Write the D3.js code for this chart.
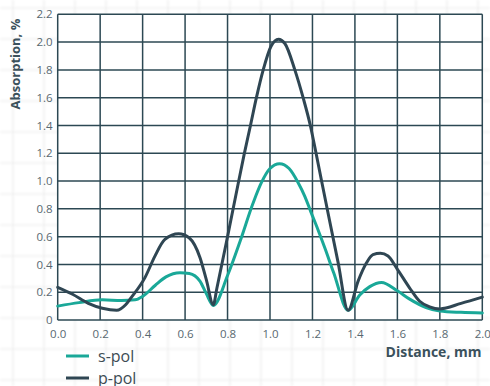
<!DOCTYPE html>
<html>
<head>
<meta charset="utf-8">
<script src="https://cdn.jsdelivr.net/npm/d3@7/dist/d3.min.js"></script>
<style>
  html, body { margin: 0; padding: 0; background: #ffffff; }
  svg { display: block; }
</style>
</head>
<body>
<svg id="chart" width="490" height="386"></svg>
<script>
// Absorption (%) against distance (mm) for the two polarisations
const sPolDistance   = [0.00, 0.10, 0.21, 0.30, 0.364, 0.40, 0.46, 0.51, 0.576, 0.62, 0.67, 0.70, 0.733,
                        0.80, 0.86, 0.92, 0.96, 1.00, 1.045, 1.09, 1.132, 1.164,
                        1.192, 1.226, 1.258, 1.30, 1.368, 1.423, 1.47, 1.525, 1.60, 1.658, 1.735, 1.80, 1.90, 2.00];
const sPolAbsorption = [0.10, 0.125, 0.145, 0.14, 0.145, 0.17, 0.25, 0.31, 0.34, 0.335, 0.28, 0.19, 0.105,
                        0.32, 0.57, 0.84, 0.99, 1.09, 1.125, 1.09, 0.99, 0.89,
                        0.78, 0.65, 0.52, 0.34, 0.07, 0.18, 0.24, 0.27, 0.21, 0.15, 0.09, 0.065, 0.055, 0.05];

const pPolDistance   = [0.00, 0.07, 0.144, 0.21, 0.278, 0.32, 0.348, 0.411, 0.458, 0.505, 0.57, 0.62, 0.67,
                        0.70, 0.733, 0.75, 0.80, 0.85, 0.878, 0.908, 0.936, 0.968, 1.005, 1.04, 1.07,
                        1.117, 1.156, 1.19, 1.217, 1.243, 1.28, 1.32, 1.368, 1.415, 1.454, 1.485,
                        1.52, 1.556, 1.598, 1.658, 1.705, 1.752, 1.80, 1.90, 2.00];
const pPolAbsorption = [0.235, 0.185, 0.12, 0.085, 0.07, 0.11, 0.165, 0.305, 0.46, 0.58, 0.62, 0.59, 0.45,
                        0.29, 0.11, 0.23, 0.60, 0.98, 1.19, 1.40, 1.60, 1.80, 1.97, 2.02, 1.99,
                        1.80, 1.60, 1.40, 1.20, 1.00, 0.72, 0.42, 0.07, 0.28, 0.41, 0.47,
                        0.48, 0.46, 0.37, 0.23, 0.135, 0.095, 0.08, 0.12, 0.165];

const xTicks = [0, 0.2, 0.4, 0.6, 0.8, 1.0, 1.2, 1.4, 1.6, 1.8, 2.0];
const yTicks = [0, 0.2, 0.4, 0.6, 0.8, 1.0, 1.2, 1.4, 1.6, 1.8, 2.0, 2.2];

const seriesNames  = ["s-pol", "p-pol"];
const seriesColors = ["#1aa898", "#2f4653"];

const W = 490, H = 386;
const svg = d3.select("#chart");

// faint graph-paper backdrop
svg.append("defs").append("filter").attr("id", "soft")
  .append("feGaussianBlur").attr("stdDeviation", 0.8);
const paper = svg.append("g").attr("filter", "url(#soft)");
const paperX = d3.range(13, W, 31);
const paperY = d3.range(8, H, 31);
paper.selectAll("line.pv").data(paperX).join("line")
  .attr("x1", d => d).attr("x2", d => d).attr("y1", 0).attr("y2", H)
  .attr("stroke", "#ececec").attr("stroke-width", 1.2);
paper.selectAll("line.ph").data(paperY).join("line")
  .attr("y1", d => d).attr("y2", d => d).attr("x1", 0).attr("x2", W)
  .attr("stroke", "#ececec").attr("stroke-width", 1.2);

const x = d3.scaleLinear().domain([0, 2]).range([57.7, 482.3]);
const y = d3.scaleLinear().domain([0, 2.2]).range([320, 14.3]);

// plot panel
svg.append("rect")
  .attr("x", x(0)).attr("y", y(2.2))
  .attr("width", x(2) - x(0)).attr("height", y(0) - y(2.2))
  .attr("fill", "#ffffff");

const gridColor = "#2c4853";
const grid = svg.append("g");
grid.selectAll("line.gx").data(xTicks).join("line")
  .attr("x1", d => x(d)).attr("x2", d => x(d))
  .attr("y1", y(0)).attr("y2", y(2.2))
  .attr("stroke", gridColor).attr("stroke-width", 1.5);
grid.selectAll("line.gy").data(yTicks).join("line")
  .attr("y1", d => y(d)).attr("y2", d => y(d))
  .attr("x1", x(0)).attr("x2", x(2))
  .attr("stroke", gridColor).attr("stroke-width", 1.5);

// tick labels through d3 axes
const tickFont = "'Open Sans', sans-serif";
const xAxis = svg.append("g")
  .attr("transform", `translate(0,${y(0)})`)
  .call(d3.axisBottom(x).tickValues(xTicks).tickSize(0).tickPadding(10)
    .tickFormat(d3.format(".1f")));
xAxis.select(".domain").remove();
xAxis.selectAll("text")
  .attr("font-family", tickFont).attr("font-size", 11.5)
  .attr("fill", "#586870");

const yAxis = svg.append("g")
  .attr("transform", `translate(${x(0)},0)`)
  .call(d3.axisLeft(y).tickValues(yTicks).tickSize(0).tickPadding(5)
    .tickFormat(d => d === 0 ? "0" : d3.format(".1f")(d)));
yAxis.select(".domain").remove();
yAxis.selectAll("text")
  .attr("font-family", tickFont).attr("font-size", 11.5)
  .attr("fill", "#586870");

// curves
const line = d3.line()
  .x(d => x(d[0])).y(d => y(d[1]))
  .curve(d3.curveMonotoneX);

const sData = sPolDistance.map((d, i) => [d, sPolAbsorption[i]]);
const pData = pPolDistance.map((d, i) => [d, pPolAbsorption[i]]);

svg.append("path").datum(sData)
  .attr("d", line).attr("fill", "none")
  .attr("stroke", seriesColors[0]).attr("stroke-width", 3)
  .attr("stroke-linejoin", "round").attr("stroke-linecap", "round");
svg.append("path").datum(pData)
  .attr("d", line).attr("fill", "none")
  .attr("stroke", seriesColors[1]).attr("stroke-width", 3)
  .attr("stroke-linejoin", "round").attr("stroke-linecap", "round");

// axis titles
svg.append("text")
  .attr("transform", "translate(20,64) rotate(-90)")
  .attr("text-anchor", "middle")
  .attr("font-family", tickFont).attr("font-weight", 700).attr("font-size", 13)
  .attr("fill", "#3b515c")
  .text("Absorption, %");

svg.append("text")
  .attr("x", 481.5).attr("y", 357)
  .attr("text-anchor", "end")
  .attr("font-family", tickFont).attr("font-weight", 700).attr("font-size", 14)
  .attr("fill", "#3b515c")
  .text("Distance, mm");

// legend
const legend = svg.append("g");
const legendRows = legend.selectAll("g").data(seriesNames).join("g")
  .attr("transform", (d, i) => `translate(66,${356 + i * 22})`);
legendRows.append("line")
  .attr("x1", 0).attr("x2", 23).attr("y1", 0).attr("y2", 0)
  .attr("stroke", (d, i) => seriesColors[i]).attr("stroke-width", 3);
legendRows.append("text")
  .attr("x", 32).attr("y", 5.5)
  .attr("font-family", tickFont).attr("font-size", 16)
  .attr("fill", "#3d4c54")
  .text(d => d);
</script>
</body>
</html>
